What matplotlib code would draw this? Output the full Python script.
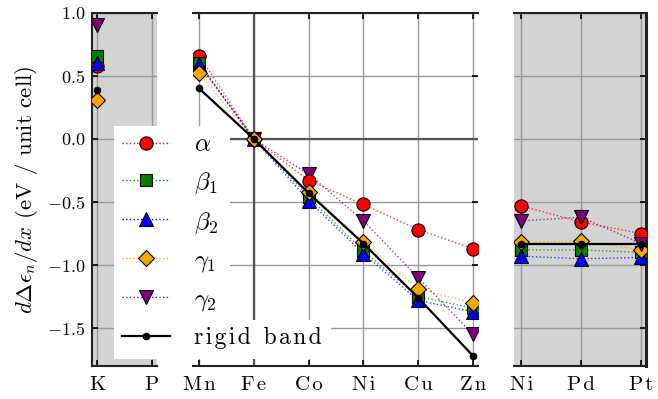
import numpy as np
import matplotlib
matplotlib.use("Agg")
import matplotlib.pyplot as plt
from matplotlib.patches import Rectangle
from matplotlib.lines import Line2D

plt.rcParams['font.family'] = ['cmr10', 'DejaVu Serif']
plt.rcParams['mathtext.fontset'] = 'cm'
plt.rcParams['axes.formatter.use_mathtext'] = True
plt.rcParams['axes.unicode_minus'] = True

nan = np.nan
cats_left = ['K', 'P']
cats_mid = ['Mn', 'Fe', 'Co', 'Ni', 'Cu', 'Zn']
cats_right = ['Ni', 'Pd', 'Pt']

alpha_left = [0.58, nan]
beta1_left = [0.66, nan]
beta2_left = [0.60, nan]
gamma1_left = [0.31, nan]
gamma2_left = [0.90, nan]
rigid_left = [0.39, nan]

alpha_mid = [0.66, 0.0, -0.33, -0.52, -0.72, -0.87]
beta1_mid = [0.60, 0.0, -0.46, -0.89, -1.25, -1.34]
beta2_mid = [0.59, 0.0, -0.49, -0.91, -1.28, -1.37]
gamma1_mid = [0.52, 0.0, -0.42, -0.815, -1.19, -1.30]
gamma2_mid = [0.60, 0.0, -0.28, -0.65, -1.10, -1.55]
rigid_mid = [0.40, 0.0, -0.43, -0.83, -1.26, -1.72]

alpha_right = [-0.53, -0.66, -0.75]
beta1_right = [-0.88, -0.88, -0.90]
beta2_right = [-0.93, -0.95, -0.94]
gamma1_right = [-0.82, -0.81, -0.88]
gamma2_right = [-0.65, -0.62, -0.83]
rigid_right = [-0.83, -0.83, -0.83]

labels = [r'$\alpha$', r'$\beta_1$', r'$\beta_2$', r'$\gamma_1$', r'$\gamma_2$', 'rigid band']
ylabel = r'$d\Delta\epsilon_n/dx$ (eV / unit cell)'
colors = ['#ff0000', '#008000', '#0000ff', '#ffa500', '#800080']
markers = ['o', 's', '^', 'D', 'v']
msizes = [9.5, 8.5, 9.5, 8.0, 10]


def spaced(s):
    # mimic the loose letter spacing of the original rendering (plain text only)
    if '$' in s:
        return s
    return '\u200a'.join(s)


W, H = 658, 399
fig = plt.figure(figsize=(W / 100, H / 100), dpi=100)

def fx(px):
    return px / W

def fy(py):
    return 1 - py / H

top, bot = 12.7, 366
axL = fig.add_axes([fx(92), fy(bot), fx(157 - 92), (bot - top) / H])
axM = fig.add_axes([fx(193), fy(bot), fx(478 - 193), (bot - top) / H])
axR = fig.add_axes([fx(514), fy(bot), fx(646 - 514), (bot - top) / H])

grid_c = '#999999'
for ax, cats, xl, series, pz in [
    (axL, cats_left, (-0.1, 1.1), [alpha_left, beta1_left, beta2_left, gamma1_left, gamma2_left, rigid_left], 4.5),
    (axM, cats_mid, (-0.11, 5.09), [alpha_mid, beta1_mid, beta2_mid, gamma1_mid, gamma2_mid, rigid_mid], 3.5),
    (axR, cats_right, (-0.12, 2.08), [alpha_right, beta1_right, beta2_right, gamma1_right, gamma2_right, rigid_right], 4.5),
]:
    x = np.arange(len(cats))
    for i in range(5):
        ax.plot(x, series[i], linestyle=':', lw=1.0, color=colors[i], alpha=0.75, zorder=3)
        ax.plot(x, series[i], linestyle='none', marker=markers[i], ms=msizes[i],
                mfc=colors[i], mec='black', mew=0.8, zorder=(pz if i == 4 else 4))
    ax.plot(x, series[5], '-', color='black', lw=1.6, marker='o', ms=4.5, zorder=5)
    ax.set_xlim(*xl)
    ax.set_ylim(-1.8, 1.0)
    ax.set_xticks(x)
    ax.set_xticklabels([spaced(c) for c in cats], fontsize=15)
    ax.set_yticks([-1.5, -1.0, -0.5, 0.0, 0.5, 1.0])
    ax.grid(True, color=grid_c, lw=1.0, zorder=1)
    ax.set_axisbelow(True)
    ax.tick_params(axis='x', direction='in', top=True, bottom=True, length=4, width=1.2, pad=7)
    for s in ax.spines.values():
        s.set_linewidth(1.5)
        s.set_color('#222222')

axL.set_facecolor('#d3d3d3')
axR.set_facecolor('#d3d3d3')

axL.spines['right'].set_visible(False)
axL.tick_params(axis='y', direction='in', left=True, right=False, length=4, width=1.2, labelsize=13, pad=5)
axL.set_yticklabels(['$-1.5$', '$-1.0$', '$-0.5$', '$0.0$', '$0.5$', '$1.0$'])

axM.spines['left'].set_visible(False)
axM.spines['right'].set_visible(False)
axM.tick_params(axis='y', direction='in', left=False, right=True, labelleft=False, length=4, width=1.2)
axM.axhline(0, color='#555555', lw=1.6, zorder=2)
axM.axvline(1, color='#555555', lw=1.6, zorder=2)

axR.spines['left'].set_visible(False)
axR.spines['right'].set_linewidth(2.2)
axR.tick_params(axis='y', direction='in', left=False, right=True, labelleft=False, length=4, width=1.2)

fig.text(fx(27), fy(190), ylabel, rotation=90, ha='center', va='center', fontsize=16.5)

# legend background
fig.patches.append(Rectangle((fx(114), fy(320)), fx(230 - 114), (320 - 126) / H,
                             transform=fig.transFigure, facecolor='white', edgecolor='none', zorder=10))
fig.patches.append(Rectangle((fx(114), fy(359)), fx(331 - 114), (359 - 320) / H,
                             transform=fig.transFigure, facecolor='white', edgecolor='none', zorder=10))

handles = []
for i in range(5):
    handles.append(Line2D([], [], linestyle=':', lw=1.0, color=colors[i], alpha=1,
                          marker=markers[i], ms=msizes[i], mfc=colors[i], mec='black', mew=0.8))
handles.append(Line2D([], [], linestyle='-', lw=1.6, color='black', marker='o', ms=4.5))
leg = fig.legend(handles, [spaced(l) for l in labels], loc='upper left', bbox_to_anchor=(fx(122), fy(134)),
                 frameon=False, fontsize=18, handlelength=1.9, handletextpad=1.0,
                 labelspacing=0.55, borderpad=0, borderaxespad=0)
leg.get_texts()[5].set_fontsize(17)
leg.set_zorder(11)

fig.savefig('out.png', dpi=100)
